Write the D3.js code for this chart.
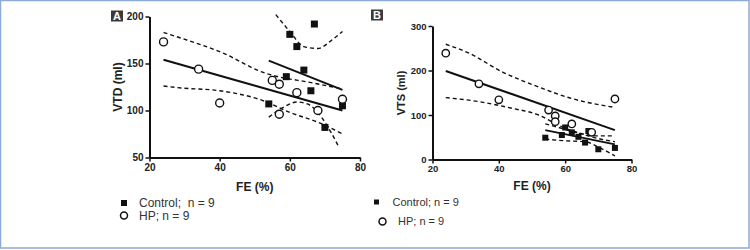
<!DOCTYPE html>
<html>
<head>
<meta charset="utf-8">
<script src="https://cdn.jsdelivr.net/npm/d3@7"></script>
<style>
  body { margin: 0; background: #fff; }
  svg { display: block; font-family: "Liberation Sans", Arial, sans-serif; }
</style>
</head>
<body>
<svg id="chart" width="750" height="250"></svg>
<script>
// ---- data ----
const xTicks = [20, 40, 60, 80]

// panel A : VTD (ml) vs FE (%)
const ctrlA = [[60, 181], [67, 192], [62, 168], [64, 143], [59, 136], [66, 121], [54, 107], [75, 105], [70, 82]]
const hpA = [[24, 173], [34, 144], [40, 108], [55, 132], [57, 128], [62, 119], [57, 96], [68, 100], [75, 112]]
const fitHpA = [[24, 154], [75, 100]]
const fitCtrlA = [[54, 153], [75, 122]]
const bandHpA = [
  [[24, 183], [29, 177], [41, 161], [52, 141], [67, 129], [75, 123]],
  [[24, 126], [29, 124], [40, 121], [52, 111], [60, 98], [69, 86], [75, 75]]
]
const bandCtrlA = [
  [[56, 202], [60, 184], [64, 168], [68, 166], [72, 175], [75, 184]],
  [[54, 93], [58, 103], [62, 109], [65, 107], [69, 93], [72, 75], [74, 61]]
]
const yTicksA = [50, 100, 150, 200]

// panel B : VTS (ml) vs FE (%)
const ctrlB = [[54, 49], [59, 55], [60, 72], [62, 61], [64, 51], [66, 38], [67, 64], [70, 23], [75, 26]]
const hpB = [[24, 239], [34, 170], [40, 134], [55, 111], [57, 98], [57, 85], [62, 80], [68, 61], [75, 136]]
const fitHpB = [[24, 199], [75, 66]]
const fitCtrlB = [[54, 66], [75, 34]]
const bandHpB = [
  [[24, 259], [31, 239], [41, 197], [52, 163], [62, 137], [75, 117]],
  [[24, 139], [34, 130], [44, 115], [52, 100], [58, 77], [64, 60], [70, 53], [75, 53]]
]
const bandCtrlB = [
  [[54, 80], [58, 72], [62, 63], [66, 55], [70, 47], [75, 40]],
  [[54, 46], [60, 42], [66, 40], [70, 28], [75, 8]]
]
const yTicksB = [0, 100, 200, 300]

const legendLabelsA = ["Control;  n = 9", "HP; n = 9"]
const legendLabelsB = ["Control; n = 9", "HP; n = 9"]

const svg = d3.select("#chart")

// light blue frame
svg.append("rect")
  .attr("x", 0.5).attr("y", 0.5)
  .attr("width", 748.5).attr("height", 247.5)
  .attr("fill", "none")
  .attr("stroke", "#8eaad6")
  .attr("stroke-width", 1.5)

function panel(opt) {
  const x = d3.scaleLinear().domain([20, 80]).range(opt.xr)
  const y = d3.scaleLinear().domain(opt.yd).range(opt.yr)
  const g = svg.append("g")

  const line = d3.line().x(d => x(d[0])).y(d => y(d[1]))
  const curve = d3.line().x(d => x(d[0])).y(d => y(d[1])).curve(d3.curveMonotoneX)

  // confidence bands (dashed)
  opt.bands.forEach(b => {
    g.append("path")
      .attr("d", curve(b))
      .attr("fill", "none")
      .attr("stroke", "#111")
      .attr("stroke-width", 1.4)
      .attr("stroke-dasharray", "4,3")
  })
  // regression lines
  opt.fits.forEach(f => {
    g.append("path")
      .attr("d", line(f))
      .attr("fill", "none")
      .attr("stroke", "#111")
      .attr("stroke-width", 2)
  })

  // axes
  const xAxis = g.append("g")
    .attr("transform", `translate(0,${opt.yr[0]})`)
    .call(d3.axisBottom(x).tickValues(xTicks).tickSize(4).tickSizeOuter(0).tickPadding(2))
  const yAxis = g.append("g")
    .attr("transform", `translate(${opt.xr[0]},0)`)
    .call(d3.axisLeft(y).tickValues(opt.yt).tickSize(4).tickSizeOuter(0).tickPadding(2))
  ;[xAxis, yAxis].forEach(a => {
    a.select(".domain").attr("stroke", "#111").attr("stroke-width", 2)
    a.selectAll(".tick line").attr("stroke", "#111").attr("stroke-width", 1.5)
    a.selectAll(".tick text")
      .attr("fill", "#222")
      .style("font-size", opt.tickFont + "px")
      .style("font-weight", "bold")
      .style("font-family", "'Liberation Sans', Arial, sans-serif")
  })

  // points
  const s = opt.sq
  g.selectAll(".sq").data(opt.ctrl).join("rect")
    .attr("x", d => x(d[0]) - s / 2)
    .attr("y", d => y(d[1]) - s / 2)
    .attr("width", s).attr("height", s)
    .attr("fill", "#111")
  g.selectAll(".ci").data(opt.hp).join("circle")
    .attr("cx", d => x(d[0]))
    .attr("cy", d => y(d[1]))
    .attr("r", opt.r)
    .attr("fill", "#fff")
    .attr("stroke", "#111")
    .attr("stroke-width", 1.4)

  // axis titles
  g.append("text")
    .attr("x", (opt.xr[0] + opt.xr[1]) / 2)
    .attr("y", opt.xTitleY)
    .attr("text-anchor", "middle")
    .attr("font-size", 12)
    .attr("font-weight", "bold")
    .attr("fill", "#222")
    .text("FE (%)")
  g.append("text")
    .attr("transform", `translate(${opt.yTitleX},${opt.yTitleCY}) rotate(-90)`)
    .attr("text-anchor", "middle")
    .attr("dy", "0.35em")
    .attr("font-size", opt.yTitleSize)
    .attr("font-weight", "bold")
    .attr("fill", "#222")
    .text(opt.yTitle)

  // panel letter
  g.append("rect")
    .attr("x", opt.letter[0]).attr("y", opt.letter[1])
    .attr("width", 12).attr("height", 11)
    .attr("fill", "#3a3a3a")
  g.append("text")
    .attr("x", opt.letter[0] + 6).attr("y", opt.letter[1] + 9.5)
    .attr("text-anchor", "middle")
    .attr("font-size", 11)
    .attr("font-weight", "bold")
    .attr("fill", "#fff")
    .text(opt.letterText)

  // legend
  const lg = opt.legend
  g.append("rect")
    .attr("x", lg.sq[0] - lg.sqSize / 2).attr("y", lg.sq[1] - lg.sqSize / 2)
    .attr("width", lg.sqSize).attr("height", lg.sqSize)
    .attr("fill", "#111")
  g.append("circle")
    .attr("cx", lg.ci[0]).attr("cy", lg.ci[1]).attr("r", lg.r)
    .attr("fill", "#fff").attr("stroke", "#111").attr("stroke-width", 1.5)
  g.append("text")
    .attr("x", lg.t1[0]).attr("y", lg.t1[1]).attr("dy", "0.35em")
    .attr("font-size", lg.size).attr("fill", "#333")
    .style("white-space", "pre")
    .text(opt.legendLabels[0])
  g.append("text")
    .attr("x", lg.t2[0]).attr("y", lg.t2[1]).attr("dy", "0.35em")
    .attr("font-size", lg.size).attr("fill", "#333")
    .text(opt.legendLabels[1])
}

panel({
  xr: [149.5, 360], yd: [50, 200], yr: [157.5, 16.5],
  yt: yTicksA, ctrl: ctrlA, hp: hpA, sq: 7, r: 4,
  fits: [fitHpA, fitCtrlA], bands: bandHpA.concat(bandCtrlA),
  tickFont: 10, xTitleY: 191, yTitleX: 118, yTitleCY: 87, yTitle: "VTD (ml)", yTitleSize: 12,
  letter: [111, 10.5], letterText: "A",
  legend: { sq: [124, 203], sqSize: 6, ci: [124, 215.5], r: 3.5, t1: [139, 203], t2: [139, 215.5], size: 12 },
  legendLabels: legendLabelsA
})

panel({
  xr: [432.5, 631.5], yd: [0, 300], yr: [159.5, 26],
  yt: yTicksB, ctrl: ctrlB, hp: hpB, sq: 6, r: 3.7,
  fits: [fitHpB, fitCtrlB], bands: bandHpB.concat(bandCtrlB),
  tickFont: 9.5, xTitleY: 190, yTitleX: 401.5, yTitleCY: 93, yTitle: "VTS (ml)", yTitleSize: 11,
  letter: [371, 9.5], letterText: "B",
  legend: { sq: [376.5, 202], sqSize: 5, ci: [382.5, 221.5], r: 3.5, t1: [392.5, 202], t2: [398, 221.5], size: 11 },
  legendLabels: legendLabelsB
})
</script>
</body>
</html>
